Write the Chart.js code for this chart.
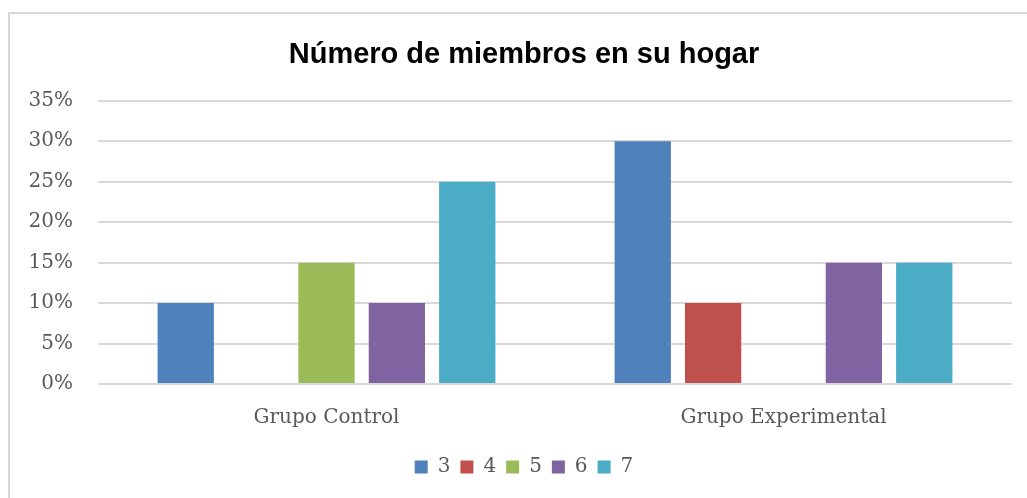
<!DOCTYPE html>
<html lang="es">
<head>
<meta charset="UTF-8">
<title>Número de miembros en su hogar</title>
<script src="https://cdn.jsdelivr.net/npm/chart.js"></script>
<style>
  html, body { margin: 0; padding: 0; background: #fff; }
  .marco {
    position: absolute; left: 8px; top: 12px; width: 1030px; height: 500px;
    border-left: 2px solid #d9d9d9; border-top: 2px solid #d9d9d9;
  }
  .grafico { position: absolute; left: 0; top: 0; width: 1027px; height: 498px; }
</style>
</head>
<body>
<div class="marco"></div>
<div class="grafico"><canvas id="myChart"></canvas></div>

<script>
// datos
const grupos = ["Grupo Control", "Grupo Experimental"];
const miembros = ["3", "4", "5", "6", "7"];
const tres = [10, 30];
const cuatro = [0, 10];
const cinco = [15, 0];
const seis = [10, 15];
const siete = [25, 15];
const colores = ["#4F81BD", "#C0504D", "#9BBB59", "#8064A2", "#4BACC6"];

const valores = [tres, cuatro, cinco, seis, siete];
const serif = "'DejaVu Serif', serif";

const data = {
    labels: grupos,
    datasets: miembros.map(function (m, i) {
        return {
            label: m,
            data: valores[i],
            backgroundColor: colores[i],
            borderWidth: 0,
            categoryPercentage: 0.77,
            barPercentage: 0.8
        };
    })
};

const config = {
    type: 'bar',
    data: data,
    options: {
        responsive: true,
        maintainAspectRatio: false,
        animation: false,
        layout: { padding: { left: 26, right: 5, top: 24, bottom: 11 } },
        scales: {
            x: {
                grid: { display: false },
                border: { display: false },
                ticks: { color: '#595959', font: { family: serif, size: 20 }, padding: 14 },
                afterFit: function (s) { s.height = 63; }
            },
            y: {
                min: 0,
                max: 35,
                ticks: {
                    stepSize: 5,
                    color: '#595959',
                    font: { family: serif, size: 20 },
                    padding: 25,
                    callback: function (v) { return v + '%'; }
                },
                grid: { color: '#d9d9d9', lineWidth: 2, drawTicks: false },
                border: { display: false },
                afterFit: function (s) { s.width = 72; }
            },
            // eje vacio a la derecha, solo para dejar margen
            y2: {
                position: 'right',
                grid: { display: false },
                border: { display: false },
                ticks: { display: false },
                afterFit: function (s) { s.width = 10; }
            }
        },
        plugins: {
            title: {
                display: true,
                text: 'Número de miembros en su hogar',
                color: '#000',
                font: { family: "'Liberation Sans', Arial, sans-serif", size: 29, weight: 'bold' },
                padding: { top: 14, bottom: 28 }
            },
            legend: {
                position: 'bottom',
                labels: {
                    color: '#595959',
                    font: { family: serif, size: 20 },
                    boxWidth: 13,
                    boxHeight: 13,
                    padding: 10
                }
            },
            tooltip: { enabled: false }
        }
    }
};

new Chart(document.getElementById('myChart'), config);
</script>
</body>
</html>
